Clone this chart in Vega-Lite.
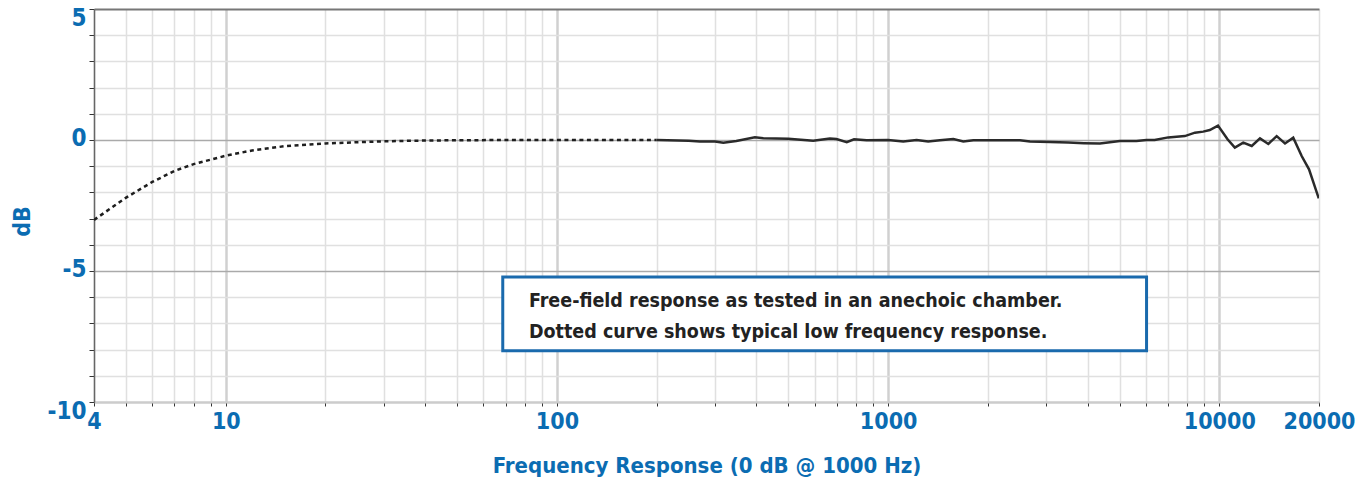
{
  "$schema": "https://vega.github.io/schema/vega-lite/v6.json",
  "width": 1225,
  "height": 393,
  "autosize": {"type": "none"},
  "padding": {"left": 94, "top": 9, "right": 49, "bottom": 85},
  "background": "white",
  "config": {"view": {"stroke": null}},
  "datasets": {
    "curve": [
      {"f": 4, "db": -3.05, "part": "low"},
      {"f": 5, "db": -2.2, "part": "low"},
      {"f": 6, "db": -1.6, "part": "low"},
      {"f": 7, "db": -1.18, "part": "low"},
      {"f": 8, "db": -0.92, "part": "low"},
      {"f": 9, "db": -0.75, "part": "low"},
      {"f": 10, "db": -0.6, "part": "low"},
      {"f": 12, "db": -0.4, "part": "low"},
      {"f": 15, "db": -0.24, "part": "low"},
      {"f": 20, "db": -0.13, "part": "low"},
      {"f": 30, "db": -0.05, "part": "low"},
      {"f": 40, "db": -0.02, "part": "low"},
      {"f": 50, "db": -0.01, "part": "low"},
      {"f": 70, "db": 0, "part": "low"},
      {"f": 100, "db": 0, "part": "low"},
      {"f": 200, "db": 0, "part": "low"},
      {"f": 200, "db": 0, "part": "main"},
      {"f": 250, "db": -0.03, "part": "main"},
      {"f": 270, "db": -0.06, "part": "main"},
      {"f": 300, "db": -0.06, "part": "main"},
      {"f": 318, "db": -0.1, "part": "main"},
      {"f": 348, "db": -0.04, "part": "main"},
      {"f": 396, "db": 0.1, "part": "main"},
      {"f": 420, "db": 0.07, "part": "main"},
      {"f": 500, "db": 0.05, "part": "main"},
      {"f": 594, "db": -0.03, "part": "main"},
      {"f": 667, "db": 0.06, "part": "main"},
      {"f": 698, "db": 0.04, "part": "main"},
      {"f": 750, "db": -0.08, "part": "main"},
      {"f": 789, "db": 0.03, "part": "main"},
      {"f": 861, "db": -0.01, "part": "main"},
      {"f": 1000, "db": 0, "part": "main"},
      {"f": 1111, "db": -0.06, "part": "main"},
      {"f": 1219, "db": 0, "part": "main"},
      {"f": 1321, "db": -0.06, "part": "main"},
      {"f": 1433, "db": -0.01, "part": "main"},
      {"f": 1573, "db": 0.04, "part": "main"},
      {"f": 1687, "db": -0.06, "part": "main"},
      {"f": 1808, "db": -0.01, "part": "main"},
      {"f": 2500, "db": -0.01, "part": "main"},
      {"f": 2680, "db": -0.06, "part": "main"},
      {"f": 3083, "db": -0.08, "part": "main"},
      {"f": 3500, "db": -0.1, "part": "main"},
      {"f": 3900, "db": -0.12, "part": "main"},
      {"f": 4360, "db": -0.13, "part": "main"},
      {"f": 5010, "db": -0.04, "part": "main"},
      {"f": 5620, "db": -0.04, "part": "main"},
      {"f": 6030, "db": 0, "part": "main"},
      {"f": 6380, "db": 0, "part": "main"},
      {"f": 7010, "db": 0.1, "part": "main"},
      {"f": 7870, "db": 0.15, "part": "main"},
      {"f": 8440, "db": 0.28, "part": "main"},
      {"f": 8940, "db": 0.32, "part": "main"},
      {"f": 9360, "db": 0.38, "part": "main"},
      {"f": 9910, "db": 0.55, "part": "main"},
      {"f": 10590, "db": 0.03, "part": "main"},
      {"f": 11140, "db": -0.29, "part": "main"},
      {"f": 11810, "db": -0.1, "part": "main"},
      {"f": 12530, "db": -0.23, "part": "main"},
      {"f": 13270, "db": 0.06, "part": "main"},
      {"f": 14060, "db": -0.15, "part": "main"},
      {"f": 14900, "db": 0.15, "part": "main"},
      {"f": 15790, "db": -0.13, "part": "main"},
      {"f": 16720, "db": 0.09, "part": "main"},
      {"f": 17730, "db": -0.61, "part": "main"},
      {"f": 18660, "db": -1.12, "part": "main"},
      {"f": 19970, "db": -2.23, "part": "main"}
    ],
    "box": [{"f1": 68.6, "f2": 6030, "d1": -5.23, "d2": -8.04}],
    "notes": [
      {"f": 82.3, "db": -6.36, "text": "Free-field response as tested in an anechoic chamber."},
      {"f": 82.3, "db": -7.56, "text": "Dotted curve shows typical low frequency response."}
    ]
  },
  "encoding": {
    "x": {
      "field": "f", "type": "quantitative",
      "scale": {"type": "log", "domain": [4, 20000], "nice": false},
      "axis": {
        "title": "Frequency Response (0 dB @ 1000 Hz)",
        "values": [4,5,6,7,8,9,10,20,30,40,50,60,70,80,90,100,200,300,400,500,600,700,800,900,1000,2000,3000,4000,5000,6000,7000,8000,9000,10000,20000],
        "labelExpr": "indexof([4,10,100,1000,10000,20000], datum.value) >= 0 ? '' + datum.value : ''",
        "labelFlush": false,
        "labelOverlap": false,
        "labelFont": "DejaVu Sans Condensed",
        "labelFontWeight": "bold",
        "labelFontSize": 23,
        "labelColor": "#0b6cb2",
        "labelPadding": 4,
        "titleFont": "DejaVu Sans Condensed",
        "titleFontWeight": "bold",
        "titleFontSize": 22,
        "titleColor": "#0b6cb2",
        "titlePadding": 22,
        "domainColor": "#cccccc",
        "domainWidth": 2,
        "tickColor": "#333333",
        "tickSize": 4,
        "tickWidth": 1,
        "grid": true,
        "gridColor": {"condition": {"test": "indexof([10,100,1000,10000], datum.value) >= 0", "value": "#d0d0d0"}, "value": "#e0e0e0"},
        "gridWidth": {"condition": {"test": "indexof([10,100,1000,10000], datum.value) >= 0", "value": 2.5}, "value": 1.5}
      }
    },
    "y": {
      "field": "db", "type": "quantitative",
      "scale": {"domain": [-10, 5], "nice": false, "zero": false},
      "axis": {
        "title": "dB",
        "values": [-10,-9,-8,-7,-6,-5,-4,-3,-2,-1,0,1,2,3,4,5],
        "labelExpr": "datum.value == 5 || datum.value == 0 || datum.value == -5 || datum.value == -10 ? '' + datum.value : ''",
        "labelFlush": false,
        "labelOverlap": false,
        "labelFont": "DejaVu Sans Condensed",
        "labelFontWeight": "bold",
        "labelFontSize": 24,
        "labelColor": "#0b6cb2",
        "labelPadding": 3,
        "labelBaseline": {"condition": {"test": "datum.value == 5 || datum.value == -10", "value": "top"}, "value": "middle"},
        "labelOffset": {"condition": {"test": "datum.value == 5 || datum.value == -10", "value": -3}, "value": -2},
        "titleFont": "DejaVu Sans Condensed",
        "titleFontWeight": "bold",
        "titleFontSize": 23,
        "titleColor": "#0b6cb2",
        "titlePadding": 12,
        "titleY": 212,
        "domainColor": "#666666",
        "domainWidth": 1.5,
        "tickColor": "#333333",
        "tickSize": 5,
        "tickWidth": 1,
        "grid": true,
        "gridColor": {"condition": [
          {"test": "datum.value == 5", "value": "#777777"},
          {"test": "datum.value == 0 || datum.value == -5", "value": "#aaaaaa"},
          {"test": "datum.value == -10", "value": "#cccccc"}
        ], "value": "#e0e0e0"},
        "gridWidth": {"condition": {"test": "datum.value == 5 || datum.value == -10", "value": 2}, "value": 1.5}
      }
    }
  },
  "layer": [
    {
      "data": {"name": "curve"},
      "transform": [{"filter": "datum.part === 'low'"}],
      "mark": {"type": "line", "color": "#1e1e1e", "strokeWidth": 2.5, "strokeDash": [4, 3.5], "clip": true}
    },
    {
      "data": {"name": "curve"},
      "transform": [{"filter": "datum.part === 'main'"}],
      "mark": {"type": "line", "color": "#2a2a2a", "strokeWidth": 2.5, "clip": true}
    },
    {
      "data": {"name": "box"},
      "mark": {"type": "rect", "fill": "white", "stroke": "#1a6aad", "strokeWidth": 3},
      "encoding": {
        "x": {"field": "f1", "type": "quantitative"},
        "x2": {"field": "f2"},
        "y": {"field": "d1", "type": "quantitative"},
        "y2": {"field": "d2"}
      }
    },
    {
      "data": {"name": "notes"},
      "mark": {"type": "text", "align": "left", "baseline": "alphabetic", "font": "DejaVu Sans Condensed", "fontWeight": "bold", "fontSize": 19.5, "color": "#222222"},
      "encoding": {
        "text": {"field": "text"}
      }
    }
  ]
}
